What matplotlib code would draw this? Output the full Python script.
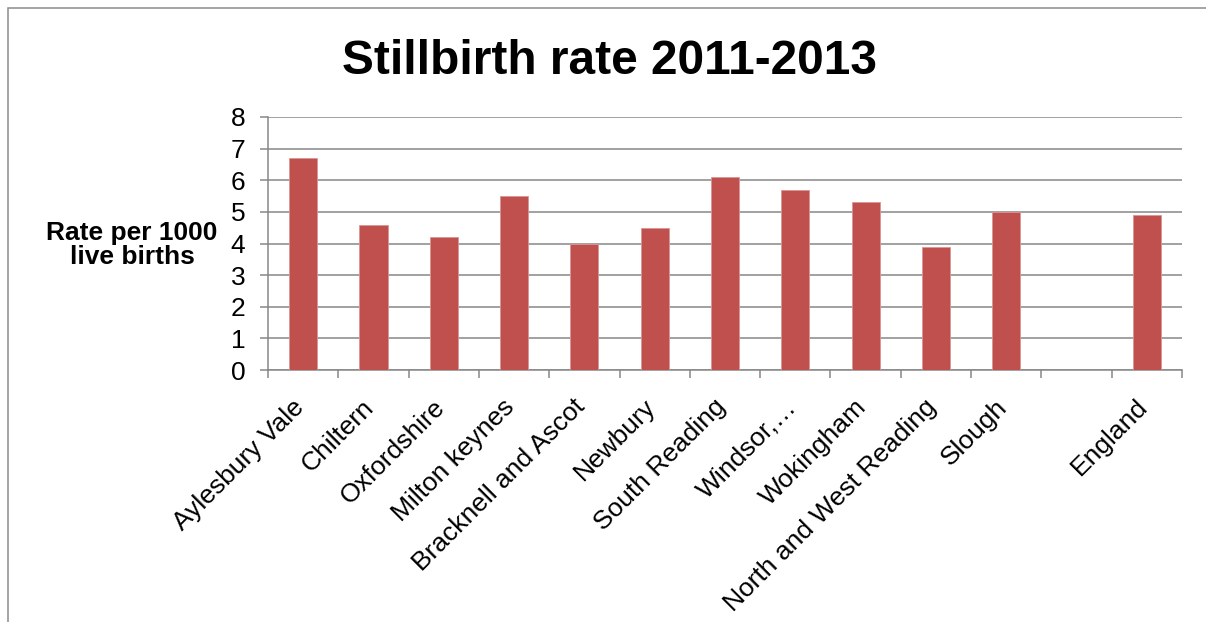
import matplotlib
matplotlib.use("Agg")
import matplotlib.pyplot as plt
import matplotlib.transforms as mtransforms
from matplotlib.patches import Rectangle
import numpy as np

plt.rcParams['font.family'] = ['Liberation Sans', 'DejaVu Sans']

categories = ["Aylesbury Vale", "Chiltern", "Oxfordshire", "Milton keynes",
              "Bracknell and Ascot", "Newbury", "South Reading", "Windsor,\u2026",
              "Wokingham", "North and West Reading", "Slough", "", "England"]
rates = [6.7, 4.6, 4.2, 5.5, 4.0, 4.5, 6.1, 5.7, 5.3, 3.9, 5.0, np.nan, 4.9]
yticks = [0, 1, 2, 3, 4, 5, 6, 7, 8]

W, H = 1206, 622
fig = plt.figure(figsize=(W / 100, H / 100), dpi=100)
ax = fig.add_axes([268 / W, (H - 370) / H, (1182 - 268) / W, (370 - 117) / H])

grid_c = "#878787"
x = np.arange(len(categories))
ax.bar(x, rates, width=0.4, color="#C0504D", edgecolor="#D99694", linewidth=0.6, zorder=3)

ax.set_xlim(-0.5, len(categories) - 0.5)
ax.set_ylim(0, 8)
ax.set_yticks(yticks)
ax.set_yticklabels([str(v) for v in yticks], fontsize=19)
ax.yaxis.grid(True, color=grid_c, linewidth=1.1, zorder=0)
ax.set_axisbelow(True)

for s in ["top", "right"]:
    ax.spines[s].set_visible(False)
for s in ["left", "bottom"]:
    ax.spines[s].set_color(grid_c)
    ax.spines[s].set_linewidth(1.1)

ax.tick_params(axis="y", length=5.8, width=1.1, color=grid_c, pad=10.5)
ax.set_xticks(x)
ax.set_xticklabels(categories, fontsize=19)
ax.tick_params(axis="x", which="major", length=0, pad=24)
ax.set_xticks(np.arange(len(categories) + 1) - 0.5, minor=True)
ax.tick_params(axis="x", which="minor", length=5.5, width=1.1, color=grid_c)

offset = mtransforms.ScaledTranslation(-3 / 100, 0, fig.dpi_scale_trans)
for lab in ax.get_xticklabels():
    lab.set_rotation(45)
    lab.set_ha("right")
    lab.set_va("center")
    lab.set_rotation_mode("anchor")
    lab.set_transform(lab.get_transform() + offset)

fig.text(610 / W, 1 - 61 / H, "Stillbirth rate 2011-2013", fontsize=34.5,
         fontweight="bold", ha="center", va="center")
fig.text(132 / W, 1 - 245 / H, "Rate per 1000\nlive births", fontsize=19,
         fontweight="bold", ha="center", va="center", linespacing=1.0)

frame = Rectangle((8 / W, -0.1), 1.2, 1 - 8 / H + 0.1, transform=fig.transFigure,
                  fill=False, edgecolor="#8C8C8C", linewidth=1.1)
fig.patches.append(frame)

fig.savefig("out.png", dpi=100, facecolor="white")
